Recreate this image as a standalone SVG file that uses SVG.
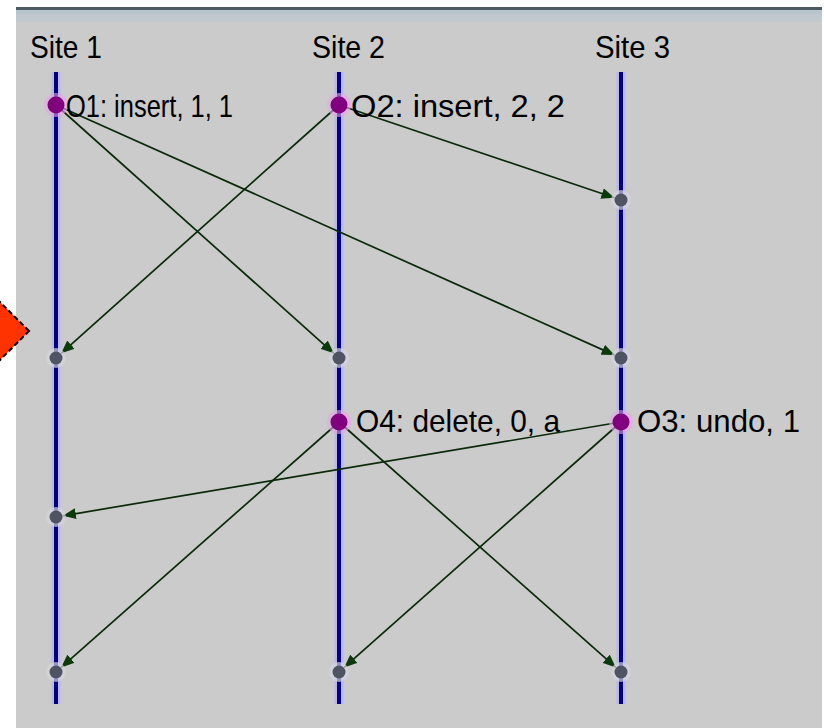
<svg xmlns="http://www.w3.org/2000/svg" width="824" height="728" viewBox="0 0 824 728">
<style>
  .lbl { font-family: "Liberation Sans", Arial, sans-serif; font-size: 32px; fill: #000; }
  .life-halo { stroke: #b8b8ea; stroke-width: 9; }
  .life { stroke: #000080; stroke-width: 4; }
  .msg { stroke: #0a2a0a; stroke-width: 1.7; fill: none; marker-end: url(#ah); }
  .op-halo { fill: #e6a6e6; opacity: 0.6; }
  .op { fill: #800080; }
  .rc-halo { fill: #d4d6de; opacity: 0.7; }
  .rc { fill: #4e5462; }
</style>
<defs>
  <marker id="ah" viewBox="0 0 13 11" refX="13" refY="5.5" markerWidth="13" markerHeight="11" markerUnits="userSpaceOnUse" orient="auto">
    <path d="M0,0 L13,5.5 L0,11 z" fill="#0b3a0b"/>
  </marker>
</defs>
<rect x="0" y="0" width="824" height="728" fill="#ffffff"/>
<g id="panel">
  <rect x="16" y="7" width="806" height="721" fill="#cbcbcb"/>
  <rect x="16" y="7" width="806" height="3" fill="#4c5a64"/>
  <rect x="16" y="10" width="806" height="4" fill="#b6c4cc"/>
  <rect x="16" y="14" width="806" height="8" fill="#c2c9ce"/>
</g>
<g id="marker-diamond">
  <polygon points="29,331 -10,292 -49,331 -10,370" fill="#ff3300" stroke="#000" stroke-width="2" stroke-dasharray="5,3"/>
</g>
<g id="site1">
  <text class="lbl" x="30" y="58" textLength="72" lengthAdjust="spacingAndGlyphs">Site 1</text>
  <line class="life-halo" x1="56" y1="72" x2="56" y2="704"/>
  <line class="life" x1="56" y1="72" x2="56" y2="704"/>
</g>
<g id="site2">
  <text class="lbl" x="312" y="58" textLength="73" lengthAdjust="spacingAndGlyphs">Site 2</text>
  <line class="life-halo" x1="339" y1="72" x2="339" y2="704"/>
  <line class="life" x1="339" y1="72" x2="339" y2="704"/>
</g>
<g id="site3">
  <text class="lbl" x="595" y="58" textLength="75" lengthAdjust="spacingAndGlyphs">Site 3</text>
  <line class="life-halo" x1="621" y1="72" x2="621" y2="704"/>
  <line class="life" x1="621" y1="72" x2="621" y2="704"/>
</g>
<g id="connectors">
  <line class="msg" x1="56" y1="105" x2="333.8" y2="353.3"/>
  <line class="msg" x1="56" y1="105" x2="614.6" y2="355.1"/>
  <line class="msg" x1="339" y1="105" x2="61.2" y2="353.3"/>
  <line class="msg" x1="339" y1="105" x2="614.4" y2="197.8"/>
  <line class="msg" x1="621" y1="422" x2="62.9" y2="515.8"/>
  <line class="msg" x1="621" y1="422" x2="344.2" y2="667.4"/>
  <line class="msg" x1="339" y1="422" x2="61.2" y2="667.4"/>
  <line class="msg" x1="339" y1="422" x2="615.8" y2="667.4"/>
</g>
<g id="r-s3-200"><circle class="rc-halo" cx="621" cy="200" r="10"/><circle class="rc" cx="621" cy="200" r="6.5"/></g>
<g id="r-s1-358"><circle class="rc-halo" cx="56" cy="358" r="10"/><circle class="rc" cx="56" cy="358" r="6.5"/></g>
<g id="r-s2-358"><circle class="rc-halo" cx="339" cy="358" r="10"/><circle class="rc" cx="339" cy="358" r="6.5"/></g>
<g id="r-s3-358"><circle class="rc-halo" cx="621" cy="358" r="10"/><circle class="rc" cx="621" cy="358" r="6.5"/></g>
<g id="r-s1-517"><circle class="rc-halo" cx="56" cy="517" r="10"/><circle class="rc" cx="56" cy="517" r="6.5"/></g>
<g id="r-s1-672"><circle class="rc-halo" cx="56" cy="672" r="10"/><circle class="rc" cx="56" cy="672" r="6.5"/></g>
<g id="r-s2-672"><circle class="rc-halo" cx="339" cy="672" r="10"/><circle class="rc" cx="339" cy="672" r="6.5"/></g>
<g id="r-s3-672"><circle class="rc-halo" cx="621" cy="672" r="10"/><circle class="rc" cx="621" cy="672" r="6.5"/></g>
<g id="op-O1">
  <circle class="op-halo" cx="56" cy="105" r="12"/><circle class="op" cx="56" cy="105" r="8.5"/>
  <text class="lbl" x="66" y="117" textLength="167" lengthAdjust="spacingAndGlyphs">O1: insert, 1, 1</text>
</g>
<g id="op-O2">
  <circle class="op-halo" cx="339" cy="105" r="12"/><circle class="op" cx="339" cy="105" r="8.5"/>
  <text class="lbl" x="351" y="117" textLength="214" lengthAdjust="spacingAndGlyphs">O2: insert, 2, 2</text>
</g>
<g id="op-O4">
  <circle class="op-halo" cx="339" cy="422" r="12"/><circle class="op" cx="339" cy="422" r="8.5"/>
  <text class="lbl" x="356" y="432" textLength="204" lengthAdjust="spacingAndGlyphs">O4: delete, 0, a</text>
</g>
<g id="op-O3">
  <circle class="op-halo" cx="621" cy="422" r="12"/><circle class="op" cx="621" cy="422" r="8.5"/>
  <text class="lbl" x="637" y="432" textLength="163" lengthAdjust="spacingAndGlyphs">O3: undo, 1</text>
</g>
</svg>
